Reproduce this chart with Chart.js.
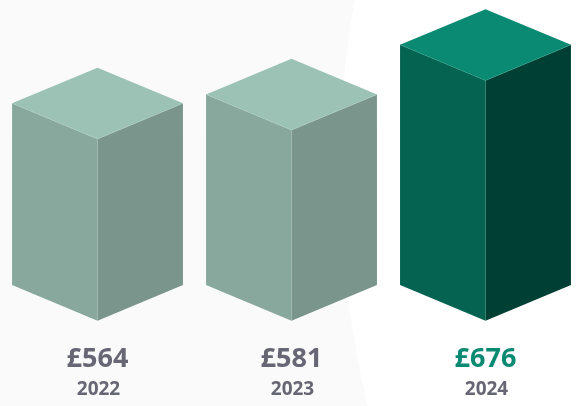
<!DOCTYPE html>
<html>
<head>
<meta charset="utf-8">
<script src="https://cdn.jsdelivr.net/npm/chart.js@4/dist/chart.umd.min.js"></script>
<style>
  html, body { margin: 0; padding: 0; background: #ffffff; }
  canvas { display: block; }
</style>
</head>
<body>
<canvas id="c" width="586" height="406"></canvas>
<script>
// ---- data ----
const categories = ['2022', '2023', '2024'];
const values = [564, 581, 676];
const highlightIndex = 2;

// ---- styles ----
const LIGHT = { top: '#9bc2b5', left: '#88a89e', right: '#7a968c', edge: '#aecdc2' };
const DARK  = { top: '#0a8a73', left: '#056351', right: '#003f34', edge: '#2f9c84' };
const DEPTH = 0.417;             // vertical/horizontal ratio of the top diamond
const VALUE_GREY = '#676674';
const VALUE_GREEN = '#0b8a73';
const YEAR_GREY = '#676674';
const FONT = '"Open Sans", "Noto Sans", sans-serif';

const cubePlugin = {
  id: 'cube3d',
  beforeDraw(chart) {
    const ctx = chart.ctx, W = chart.width, H = chart.height;
    ctx.save();
    ctx.fillStyle = '#fafafa';
    ctx.fillRect(0, 0, W, H);
    ctx.fillStyle = '#ffffff';
    ctx.beginPath();
    ctx.moveTo(355, 0);
    ctx.bezierCurveTo(335, 100, 332, 260, 368, H);
    ctx.lineTo(W, H);
    ctx.lineTo(W, 0);
    ctx.closePath();
    ctx.fill();
    ctx.restore();
  },
  afterDatasetsDraw(chart) {
    const ctx = chart.ctx;
    const ys = chart.scales.y;
    const meta = chart.getDatasetMeta(0);
    const yb = ys.getPixelForValue(ys.min);
    meta.data.forEach((bar, i) => {
      const p = bar.getProps(['x', 'y', 'width'], true);
      const cx = p.x, yt = p.y;
      const w = p.width / 2, d = w * DEPTH;
      const col = i === highlightIndex ? DARK : LIGHT;
      ctx.save();
      // left face
      ctx.fillStyle = col.left;
      ctx.beginPath();
      ctx.moveTo(cx - w, yt - d); ctx.lineTo(cx, yt); ctx.lineTo(cx, yb); ctx.lineTo(cx - w, yb - d);
      ctx.closePath(); ctx.fill();
      // right face
      ctx.fillStyle = col.right;
      ctx.beginPath();
      ctx.moveTo(cx, yt); ctx.lineTo(cx + w, yt - d); ctx.lineTo(cx + w, yb - d); ctx.lineTo(cx, yb);
      ctx.closePath(); ctx.fill();
      // top face
      ctx.fillStyle = col.top;
      ctx.beginPath();
      ctx.moveTo(cx, yt); ctx.lineTo(cx - w, yt - d); ctx.lineTo(cx, yt - 2 * d); ctx.lineTo(cx + w, yt - d);
      ctx.closePath(); ctx.fill();
      // subtle edges
      ctx.strokeStyle = col.edge;
      ctx.lineWidth = 0.5;
      ctx.beginPath();
      ctx.moveTo(cx - w, yt - d); ctx.lineTo(cx, yt); ctx.lineTo(cx + w, yt - d);
      ctx.stroke();
      ctx.globalAlpha = 0.5;
      ctx.beginPath();
      ctx.moveTo(cx, yt); ctx.lineTo(cx, yb);
      ctx.stroke();
      ctx.restore();
    });
  },
  afterDraw(chart) {
    const ctx = chart.ctx;
    const xs = chart.scales.x;
    ctx.save();
    ctx.textAlign = 'center';
    ctx.textBaseline = 'alphabetic';
    categories.forEach((cat, i) => {
      const x = xs.getPixelForValue(i);
      ctx.font = 'bold 27px ' + FONT;
      ctx.fillStyle = i === highlightIndex ? VALUE_GREEN : VALUE_GREY;
      ctx.fillText('£' + values[i], x, 367);
      ctx.font = 'bold 19px ' + FONT;
      ctx.fillStyle = YEAR_GREY;
      ctx.fillText(cat, x + 1, 395);
    });
    ctx.restore();
  }
};

new Chart(document.getElementById('c'), {
  type: 'bar',
  data: {
    labels: categories,
    datasets: [{
      data: values,
      backgroundColor: 'rgba(0,0,0,0)',
      borderWidth: 0,
      categoryPercentage: 1,
      barPercentage: 0.881
    }]
  },
  options: {
    responsive: false,
    animation: false,
    layout: { padding: { left: 0.5, right: 3.5, top: 0, bottom: 85.3 } },
    scales: {
      x: { display: false, offset: true },
      y: { display: false, min: 216, max: 830 }
    },
    plugins: { legend: { display: false }, tooltip: { enabled: false } }
  },
  plugins: [cubePlugin]
});
</script>
</body>
</html>
